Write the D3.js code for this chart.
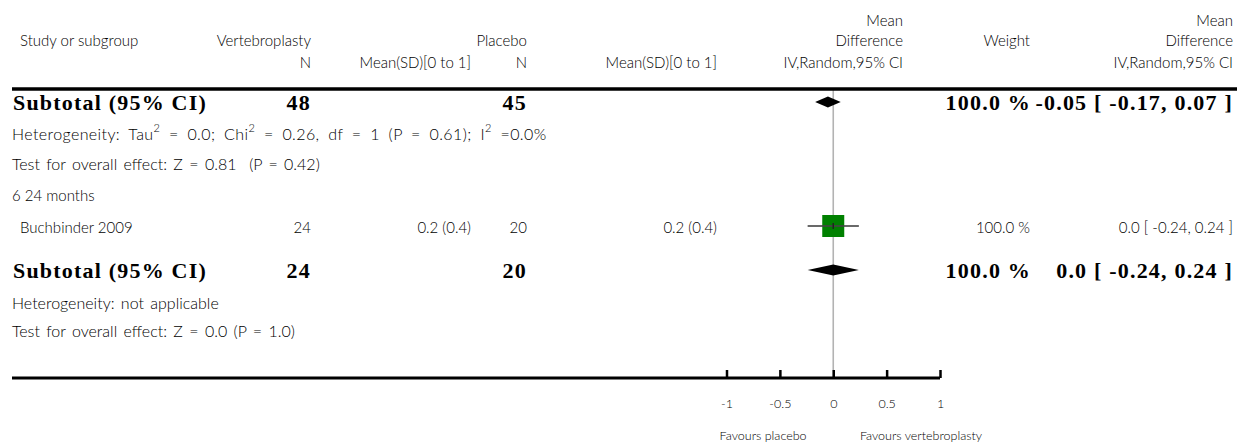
<!DOCTYPE html>
<html>
<head>
<meta charset="utf-8">
<script src="https://cdn.jsdelivr.net/npm/d3@7/dist/d3.min.js"></script>
<style>
  html, body { margin: 0; padding: 0; background: #fff; }
  svg { display: block; }
  text { white-space: pre; }
  .reg { font-family: "Lato", "Open Sans", sans-serif; font-weight: 300; font-size: 15px; fill: #000; }
  .hdr { font-size: 15px; }
  .stat { font-size: 16px; word-spacing: 2px; }
  .het0 { word-spacing: 4px; letter-spacing: 0.4px; }
  .bold { font-family: "Liberation Serif", "Times New Roman", serif; font-weight: bold; font-size: 22px; fill: #000; letter-spacing: 1.2px; }
</style>
</head>
<body>
<svg id="chart" width="1237" height="443"></svg>
<script>
// ---------------- data ----------------
const headerTop = ["Study or subgroup", "Vertebroplasty", "Placebo", "Mean\nDifference", "Weight", "Mean\nDifference"];
const headerSub = ["N", "Mean(SD)[0 to 1]", "N", "Mean(SD)[0 to 1]", "IV,Random,95% CI", "IV,Random,95% CI"];

const subgroupNames = ["", "6 24 months"];
const subtotalLabel = ["Subtotal (95% CI)", "Subtotal (95% CI)"];
const subtotalN1 = [48, 24];
const subtotalN2 = [45, 20];
const subtotalMD = [-0.05, 0.0];
const subtotalLo = [-0.17, -0.24];
const subtotalHi = [0.07, 0.24];
const subtotalWeight = [100.0, 100.0];
const heterogeneity = [
  [["Heterogeneity: Tau", ""], ["2", "sup"], [" = 0.0; Chi", ""], ["2", "sup"], [" = 0.26, df = 1 (P = 0.61); I", ""], ["2", "sup"], [" =0.0%", ""]],
  [["Heterogeneity: not applicable", ""]]
];
const overallTest = ["Test for overall effect: Z = 0.81  (P = 0.42)", "Test for overall effect: Z = 0.0 (P = 1.0)"];

const studyNames = ["Buchbinder 2009"];
const studyN1 = [24];
const studyMean1 = ["0.2 (0.4)"];
const studyN2 = [20];
const studyMean2 = ["0.2 (0.4)"];
const studyMD = [0.0];
const studyLo = [-0.24];
const studyHi = [0.24];
const studyWeight = [100.0];

const tickValues = [-1, -0.5, 0, 0.5, 1];
const tickLabels = ["-1", "-0.5", "0", "0.5", "1"];
const favourLabels = ["Favours placebo", "Favours vertebroplasty"];

// ---------------- layout ----------------
const svg = d3.select("#chart");
const colX = { study: 20, vN: 311, vMean: 471, pN: 527, pMean: 717, plot: 903, weight: 1030, md: 1233 };
const leftX = 12;
const topLineY = 89;
const axisY = 378;
const x = d3.scaleLinear().domain([-1, 1]).range([726.5, 940]);
const boxSize = d3.scaleSqrt().domain([0, 100]).range([0, 22]);
const num = (v, d) => v.toFixed(d);
const fmtCI = (m, l, h, d) => `${num(m, d)} [ ${num(l, 2)}, ${num(h, 2)} ]`;
const fmtW = w => `${w.toFixed(1)} %`;

function txt(xp, yp, s, cls, anchor) {
  return svg.append("text").attr("class", cls).attr("x", xp).attr("y", yp)
    .attr("text-anchor", anchor || "start").attr("dominant-baseline", "central").text(s);
}

// header
txt(colX.study, 40, headerTop[0], "reg hdr");
txt(colX.vN, 40, headerTop[1], "reg hdr", "end");
txt(colX.pN, 40, headerTop[2], "reg hdr", "end");
headerTop[3].split("\n").forEach((s, i) => txt(colX.plot, 20 + i * 20, s, "reg hdr", "end"));
txt(colX.weight, 40, headerTop[4], "reg hdr", "end");
headerTop[5].split("\n").forEach((s, i) => txt(colX.md, 20 + i * 20, s, "reg hdr", "end"));
[colX.vN, colX.vMean, colX.pN, colX.pMean, colX.plot, colX.md].forEach((cx, i) => txt(cx, 62, headerSub[i], "reg hdr", "end"));

// reference line at 0
svg.append("line").attr("x1", x(0)).attr("x2", x(0)).attr("y1", topLineY).attr("y2", axisY)
  .attr("stroke", "#b3b3b3").attr("stroke-width", 1.6);

// top rule
svg.append("line").attr("x1", leftX).attr("x2", 1237).attr("y1", topLineY).attr("y2", topLineY)
  .attr("stroke", "#000").attr("stroke-width", 3.5);

// rows
const blocks = [
  { sub: 0, subtotalY: 102, hetY: 133, testY: 163 },
  { sub: 1, nameY: 195, studyY: [227], subtotalY: 270, hetY: 302, testY: 330 }
];

function diamond(i, cy) {
  const h = 5.5;
  const pts = [[x(subtotalLo[i]), cy], [x(subtotalMD[i]), cy - h], [x(subtotalHi[i]), cy], [x(subtotalMD[i]), cy + h]];
  svg.append("path").attr("d", d3.line()(pts) + "Z").attr("fill", "#000");
}

blocks.forEach(b => {
  const i = b.sub;
  if (subgroupNames[i]) txt(leftX, b.nameY, subgroupNames[i], "reg");
  if (b.studyY) {
    studyNames.forEach((nm, j) => {
      const y = b.studyY[j];
      txt(colX.study, y, nm, "reg");
      txt(colX.vN, y, studyN1[j], "reg", "end");
      txt(colX.vMean, y, studyMean1[j], "reg", "end");
      txt(colX.pN, y, studyN2[j], "reg", "end");
      txt(colX.pMean, y, studyMean2[j], "reg", "end");
      const s = boxSize(studyWeight[j]);
      svg.append("rect").attr("x", x(studyMD[j]) - s / 2).attr("y", y - 1 - s / 2).attr("width", s).attr("height", s)
        .attr("fill", "#008000");
      svg.append("line").attr("x1", x(studyLo[j])).attr("x2", x(studyHi[j])).attr("y1", y - 1).attr("y2", y - 1)
        .attr("stroke", "#444").attr("stroke-width", 1.8).attr("stroke-opacity", 0.8);
      svg.append("line").attr("x1", x(studyMD[j])).attr("x2", x(studyMD[j])).attr("y1", y - 4).attr("y2", y + 2)
        .attr("stroke", "#222").attr("stroke-width", 1.5);
      txt(colX.weight, y, fmtW(studyWeight[j]), "reg", "end");
      txt(colX.md, y, fmtCI(studyMD[j], studyLo[j], studyHi[j], 1), "reg", "end");
    });
  }
  const sy = b.subtotalY;
  txt(leftX + 1, sy, subtotalLabel[i], "bold");
  txt(colX.vN, sy, subtotalN1[i], "bold", "end");
  txt(colX.pN, sy, subtotalN2[i], "bold", "end");
  diamond(i, sy);
  const mdDigits = subtotalMD[i] === 0 ? 1 : 2;
  txt(colX.weight + 1, sy, fmtW(subtotalWeight[i]), "bold", "end");
  txt(colX.md, sy, fmtCI(subtotalMD[i], subtotalLo[i], subtotalHi[i], mdDigits), "bold", "end");

  const t = svg.append("text").attr("class", "reg stat" + (heterogeneity[i].length > 1 ? " het0" : ""))
    .attr("x", leftX).attr("y", b.hetY).attr("dominant-baseline", "central");
  heterogeneity[i].forEach(([s, kind]) => {
    if (kind === "sup") t.append("tspan").attr("dy", -6).attr("font-size", 11).text(s);
    else {
      const ts = t.append("tspan").text(s);
      if (t.node().childNodes.length > 1) ts.attr("dy", 6);
    }
  });
  txt(leftX, b.testY, overallTest[i], "reg stat");
});

// axis
svg.append("line").attr("x1", leftX).attr("x2", x(1)).attr("y1", axisY).attr("y2", axisY)
  .attr("stroke", "#000").attr("stroke-width", 3);
const axis = d3.axisBottom(x).tickValues(tickValues).tickFormat((d, i) => tickLabels[i])
  .tickSizeInner(-8).tickSizeOuter(0).tickPadding(21);
const ag = svg.append("g").attr("transform", `translate(0,${axisY})`).call(axis);
ag.select(".domain").remove();
ag.selectAll(".tick line").attr("stroke", "#000").attr("stroke-width", 2.5);
ag.selectAll(".tick text").attr("class", "reg").style("font-size", "12.5px").attr("fill", "#333");

txt(x(-0.25), 435, favourLabels[0], "reg", "end").style("font-size", "12.5px");
txt(x(0.25), 435, favourLabels[1], "reg", "start").style("font-size", "12.5px");
</script>
</body>
</html>
